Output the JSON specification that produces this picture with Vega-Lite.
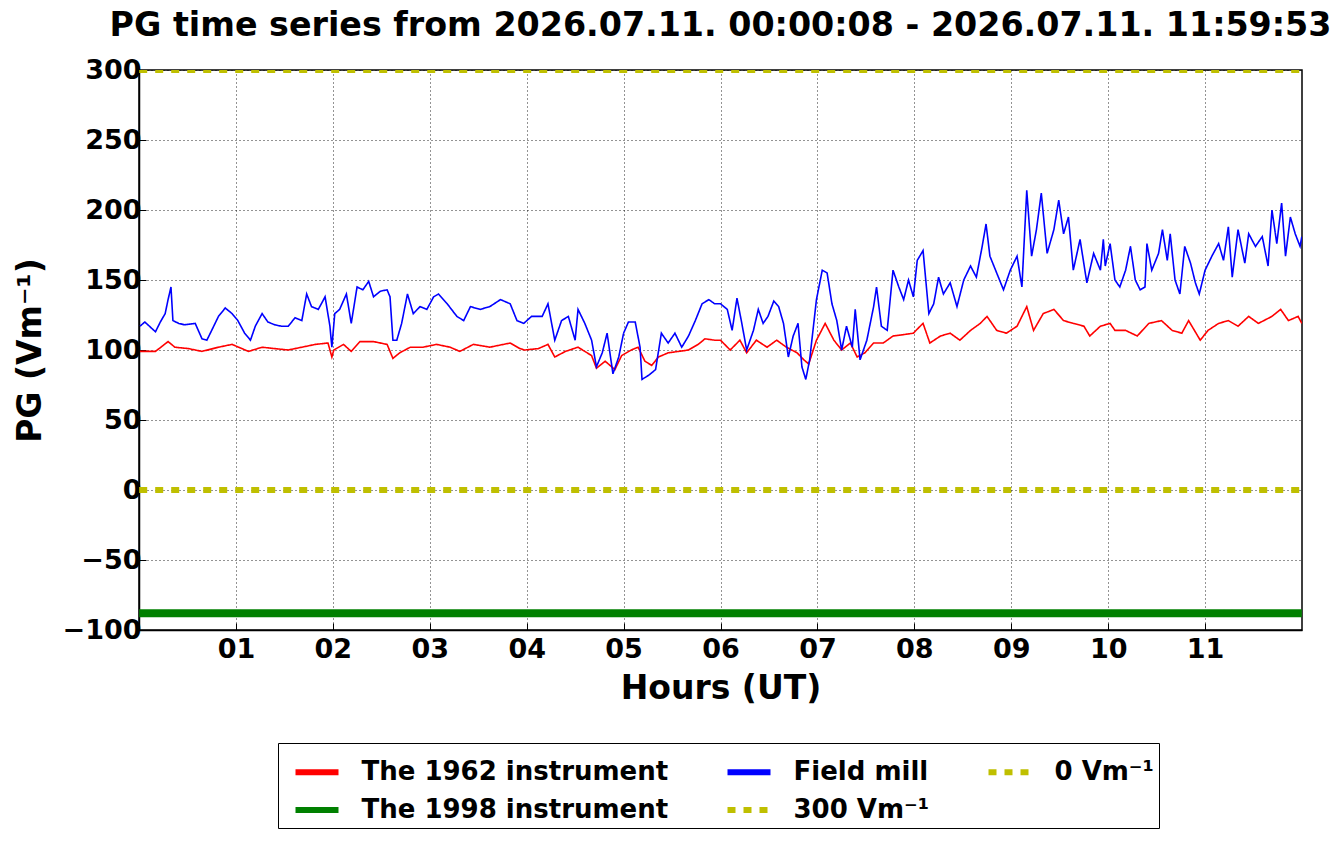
{
  "$schema": "https://vega.github.io/schema/vega-lite/v6.json",
  "description": "PG time series, 12 hours",
  "width": 1163,
  "height": 560,
  "autosize": "none",
  "padding": {"left": 139, "top": 70, "right": 39, "bottom": 214},
  "background": "white",
  "title": {
    "text": "PG time series from 2026.07.11. 00:00:08 - 2026.07.11. 11:59:53",
    "font": "DejaVu Sans",
    "fontSize": 33.3,
    "fontWeight": "bold",
    "color": "black",
    "anchor": "middle",
    "frame": "group",
    "offset": 13
  },
  "datasets": {
    "pg": [
      {"series": "The 1962 instrument", "h": 0.01, "pg": 99},
      {"series": "The 1962 instrument", "h": 0.17, "pg": 99},
      {"series": "The 1962 instrument", "h": 0.30, "pg": 106},
      {"series": "The 1962 instrument", "h": 0.37, "pg": 102},
      {"series": "The 1962 instrument", "h": 0.51, "pg": 101},
      {"series": "The 1962 instrument", "h": 0.65, "pg": 99},
      {"series": "The 1962 instrument", "h": 0.82, "pg": 102},
      {"series": "The 1962 instrument", "h": 0.96, "pg": 104},
      {"series": "The 1962 instrument", "h": 1.13, "pg": 99},
      {"series": "The 1962 instrument", "h": 1.27, "pg": 102},
      {"series": "The 1962 instrument", "h": 1.40, "pg": 101},
      {"series": "The 1962 instrument", "h": 1.54, "pg": 100},
      {"series": "The 1962 instrument", "h": 1.68, "pg": 102},
      {"series": "The 1962 instrument", "h": 1.82, "pg": 104},
      {"series": "The 1962 instrument", "h": 1.95, "pg": 105},
      {"series": "The 1962 instrument", "h": 1.99, "pg": 95},
      {"series": "The 1962 instrument", "h": 2.01, "pg": 100},
      {"series": "The 1962 instrument", "h": 2.11, "pg": 104},
      {"series": "The 1962 instrument", "h": 2.19, "pg": 99},
      {"series": "The 1962 instrument", "h": 2.28, "pg": 106},
      {"series": "The 1962 instrument", "h": 2.42, "pg": 106},
      {"series": "The 1962 instrument", "h": 2.56, "pg": 104},
      {"series": "The 1962 instrument", "h": 2.62, "pg": 94},
      {"series": "The 1962 instrument", "h": 2.69, "pg": 98},
      {"series": "The 1962 instrument", "h": 2.80, "pg": 102},
      {"series": "The 1962 instrument", "h": 2.93, "pg": 102},
      {"series": "The 1962 instrument", "h": 3.07, "pg": 104},
      {"series": "The 1962 instrument", "h": 3.21, "pg": 102},
      {"series": "The 1962 instrument", "h": 3.31, "pg": 99},
      {"series": "The 1962 instrument", "h": 3.45, "pg": 104},
      {"series": "The 1962 instrument", "h": 3.62, "pg": 102},
      {"series": "The 1962 instrument", "h": 3.83, "pg": 105},
      {"series": "The 1962 instrument", "h": 3.93, "pg": 101},
      {"series": "The 1962 instrument", "h": 3.98, "pg": 100},
      {"series": "The 1962 instrument", "h": 4.12, "pg": 101},
      {"series": "The 1962 instrument", "h": 4.22, "pg": 104},
      {"series": "The 1962 instrument", "h": 4.29, "pg": 95},
      {"series": "The 1962 instrument", "h": 4.40, "pg": 99},
      {"series": "The 1962 instrument", "h": 4.53, "pg": 102},
      {"series": "The 1962 instrument", "h": 4.67, "pg": 96},
      {"series": "The 1962 instrument", "h": 4.72, "pg": 87},
      {"series": "The 1962 instrument", "h": 4.81, "pg": 92},
      {"series": "The 1962 instrument", "h": 4.91, "pg": 86},
      {"series": "The 1962 instrument", "h": 4.98, "pg": 96},
      {"series": "The 1962 instrument", "h": 5.08, "pg": 100},
      {"series": "The 1962 instrument", "h": 5.15, "pg": 102},
      {"series": "The 1962 instrument", "h": 5.22, "pg": 92},
      {"series": "The 1962 instrument", "h": 5.29, "pg": 89},
      {"series": "The 1962 instrument", "h": 5.36, "pg": 95},
      {"series": "The 1962 instrument", "h": 5.46, "pg": 98},
      {"series": "The 1962 instrument", "h": 5.57, "pg": 99},
      {"series": "The 1962 instrument", "h": 5.67, "pg": 100},
      {"series": "The 1962 instrument", "h": 5.77, "pg": 104},
      {"series": "The 1962 instrument", "h": 5.84, "pg": 108},
      {"series": "The 1962 instrument", "h": 5.94, "pg": 107},
      {"series": "The 1962 instrument", "h": 6.00, "pg": 107},
      {"series": "The 1962 instrument", "h": 6.10, "pg": 100},
      {"series": "The 1962 instrument", "h": 6.20, "pg": 107},
      {"series": "The 1962 instrument", "h": 6.27, "pg": 98},
      {"series": "The 1962 instrument", "h": 6.37, "pg": 107},
      {"series": "The 1962 instrument", "h": 6.48, "pg": 102},
      {"series": "The 1962 instrument", "h": 6.58, "pg": 107},
      {"series": "The 1962 instrument", "h": 6.68, "pg": 102},
      {"series": "The 1962 instrument", "h": 6.79, "pg": 98},
      {"series": "The 1962 instrument", "h": 6.86, "pg": 93},
      {"series": "The 1962 instrument", "h": 6.91, "pg": 90},
      {"series": "The 1962 instrument", "h": 6.99, "pg": 107},
      {"series": "The 1962 instrument", "h": 7.08, "pg": 119},
      {"series": "The 1962 instrument", "h": 7.17, "pg": 107},
      {"series": "The 1962 instrument", "h": 7.25, "pg": 100},
      {"series": "The 1962 instrument", "h": 7.34, "pg": 105},
      {"series": "The 1962 instrument", "h": 7.41, "pg": 95},
      {"series": "The 1962 instrument", "h": 7.49, "pg": 98},
      {"series": "The 1962 instrument", "h": 7.58, "pg": 105},
      {"series": "The 1962 instrument", "h": 7.68, "pg": 105},
      {"series": "The 1962 instrument", "h": 7.78, "pg": 110},
      {"series": "The 1962 instrument", "h": 7.89, "pg": 111},
      {"series": "The 1962 instrument", "h": 7.99, "pg": 112},
      {"series": "The 1962 instrument", "h": 8.06, "pg": 117},
      {"series": "The 1962 instrument", "h": 8.09, "pg": 119},
      {"series": "The 1962 instrument", "h": 8.16, "pg": 105},
      {"series": "The 1962 instrument", "h": 8.27, "pg": 110},
      {"series": "The 1962 instrument", "h": 8.37, "pg": 112},
      {"series": "The 1962 instrument", "h": 8.47, "pg": 107},
      {"series": "The 1962 instrument", "h": 8.58, "pg": 114},
      {"series": "The 1962 instrument", "h": 8.68, "pg": 119},
      {"series": "The 1962 instrument", "h": 8.75, "pg": 124},
      {"series": "The 1962 instrument", "h": 8.85, "pg": 114},
      {"series": "The 1962 instrument", "h": 8.95, "pg": 112},
      {"series": "The 1962 instrument", "h": 9.06, "pg": 117},
      {"series": "The 1962 instrument", "h": 9.16, "pg": 131},
      {"series": "The 1962 instrument", "h": 9.23, "pg": 114},
      {"series": "The 1962 instrument", "h": 9.33, "pg": 126},
      {"series": "The 1962 instrument", "h": 9.44, "pg": 129},
      {"series": "The 1962 instrument", "h": 9.54, "pg": 121},
      {"series": "The 1962 instrument", "h": 9.64, "pg": 119},
      {"series": "The 1962 instrument", "h": 9.75, "pg": 117},
      {"series": "The 1962 instrument", "h": 9.81, "pg": 110},
      {"series": "The 1962 instrument", "h": 9.92, "pg": 117},
      {"series": "The 1962 instrument", "h": 10.02, "pg": 119},
      {"series": "The 1962 instrument", "h": 10.07, "pg": 114},
      {"series": "The 1962 instrument", "h": 10.18, "pg": 114},
      {"series": "The 1962 instrument", "h": 10.30, "pg": 110},
      {"series": "The 1962 instrument", "h": 10.42, "pg": 119},
      {"series": "The 1962 instrument", "h": 10.55, "pg": 121},
      {"series": "The 1962 instrument", "h": 10.66, "pg": 114},
      {"series": "The 1962 instrument", "h": 10.76, "pg": 112},
      {"series": "The 1962 instrument", "h": 10.83, "pg": 121},
      {"series": "The 1962 instrument", "h": 10.95, "pg": 107},
      {"series": "The 1962 instrument", "h": 11.03, "pg": 114},
      {"series": "The 1962 instrument", "h": 11.14, "pg": 119},
      {"series": "The 1962 instrument", "h": 11.24, "pg": 121},
      {"series": "The 1962 instrument", "h": 11.34, "pg": 117},
      {"series": "The 1962 instrument", "h": 11.45, "pg": 124},
      {"series": "The 1962 instrument", "h": 11.55, "pg": 119},
      {"series": "The 1962 instrument", "h": 11.69, "pg": 124},
      {"series": "The 1962 instrument", "h": 11.78, "pg": 129},
      {"series": "The 1962 instrument", "h": 11.86, "pg": 121},
      {"series": "The 1962 instrument", "h": 11.96, "pg": 124},
      {"series": "The 1962 instrument", "h": 11.998, "pg": 119},

      {"series": "The 1998 instrument", "h": 0.002, "pg": -88},
      {"series": "The 1998 instrument", "h": 11.998, "pg": -88},

      {"series": "Field mill", "h": 0.01, "pg": 117},
      {"series": "Field mill", "h": 0.06, "pg": 120},
      {"series": "Field mill", "h": 0.17, "pg": 113},
      {"series": "Field mill", "h": 0.22, "pg": 120},
      {"series": "Field mill", "h": 0.27, "pg": 126},
      {"series": "Field mill", "h": 0.30, "pg": 136},
      {"series": "Field mill", "h": 0.33, "pg": 145},
      {"series": "Field mill", "h": 0.35, "pg": 121},
      {"series": "Field mill", "h": 0.41, "pg": 119},
      {"series": "Field mill", "h": 0.47, "pg": 118},
      {"series": "Field mill", "h": 0.58, "pg": 119},
      {"series": "Field mill", "h": 0.65, "pg": 108},
      {"series": "Field mill", "h": 0.70, "pg": 107},
      {"series": "Field mill", "h": 0.75, "pg": 114},
      {"series": "Field mill", "h": 0.82, "pg": 124},
      {"series": "Field mill", "h": 0.89, "pg": 130},
      {"series": "Field mill", "h": 0.96, "pg": 126},
      {"series": "Field mill", "h": 1.02, "pg": 121},
      {"series": "Field mill", "h": 1.09, "pg": 112},
      {"series": "Field mill", "h": 1.15, "pg": 107},
      {"series": "Field mill", "h": 1.20, "pg": 117},
      {"series": "Field mill", "h": 1.27, "pg": 126},
      {"series": "Field mill", "h": 1.33, "pg": 120},
      {"series": "Field mill", "h": 1.40, "pg": 118},
      {"series": "Field mill", "h": 1.47, "pg": 117},
      {"series": "Field mill", "h": 1.54, "pg": 117},
      {"series": "Field mill", "h": 1.61, "pg": 123},
      {"series": "Field mill", "h": 1.68, "pg": 121},
      {"series": "Field mill", "h": 1.73, "pg": 140},
      {"series": "Field mill", "h": 1.78, "pg": 131},
      {"series": "Field mill", "h": 1.85, "pg": 129},
      {"series": "Field mill", "h": 1.92, "pg": 138},
      {"series": "Field mill", "h": 1.97, "pg": 117},
      {"series": "Field mill", "h": 1.99, "pg": 102},
      {"series": "Field mill", "h": 2.02, "pg": 126},
      {"series": "Field mill", "h": 2.07, "pg": 129},
      {"series": "Field mill", "h": 2.14, "pg": 140},
      {"series": "Field mill", "h": 2.19, "pg": 119},
      {"series": "Field mill", "h": 2.25, "pg": 145},
      {"series": "Field mill", "h": 2.31, "pg": 143},
      {"series": "Field mill", "h": 2.37, "pg": 149},
      {"series": "Field mill", "h": 2.42, "pg": 138},
      {"series": "Field mill", "h": 2.49, "pg": 142},
      {"series": "Field mill", "h": 2.56, "pg": 143},
      {"series": "Field mill", "h": 2.59, "pg": 138},
      {"series": "Field mill", "h": 2.62, "pg": 107},
      {"series": "Field mill", "h": 2.66, "pg": 107},
      {"series": "Field mill", "h": 2.71, "pg": 119},
      {"series": "Field mill", "h": 2.77, "pg": 140},
      {"series": "Field mill", "h": 2.83, "pg": 126},
      {"series": "Field mill", "h": 2.90, "pg": 131},
      {"series": "Field mill", "h": 2.97, "pg": 129},
      {"series": "Field mill", "h": 3.04, "pg": 138},
      {"series": "Field mill", "h": 3.09, "pg": 140},
      {"series": "Field mill", "h": 3.18, "pg": 133},
      {"series": "Field mill", "h": 3.28, "pg": 124},
      {"series": "Field mill", "h": 3.35, "pg": 121},
      {"series": "Field mill", "h": 3.42, "pg": 131},
      {"series": "Field mill", "h": 3.52, "pg": 129},
      {"series": "Field mill", "h": 3.62, "pg": 131},
      {"series": "Field mill", "h": 3.73, "pg": 136},
      {"series": "Field mill", "h": 3.83, "pg": 133},
      {"series": "Field mill", "h": 3.90, "pg": 121},
      {"series": "Field mill", "h": 3.97, "pg": 119},
      {"series": "Field mill", "h": 4.05, "pg": 124},
      {"series": "Field mill", "h": 4.16, "pg": 124},
      {"series": "Field mill", "h": 4.22, "pg": 133},
      {"series": "Field mill", "h": 4.29, "pg": 107},
      {"series": "Field mill", "h": 4.36, "pg": 121},
      {"series": "Field mill", "h": 4.43, "pg": 124},
      {"series": "Field mill", "h": 4.50, "pg": 107},
      {"series": "Field mill", "h": 4.53, "pg": 129},
      {"series": "Field mill", "h": 4.60, "pg": 119},
      {"series": "Field mill", "h": 4.67, "pg": 107},
      {"series": "Field mill", "h": 4.72, "pg": 88},
      {"series": "Field mill", "h": 4.78, "pg": 98},
      {"series": "Field mill", "h": 4.83, "pg": 112},
      {"series": "Field mill", "h": 4.89, "pg": 83},
      {"series": "Field mill", "h": 4.95, "pg": 95},
      {"series": "Field mill", "h": 5.00, "pg": 112},
      {"series": "Field mill", "h": 5.05, "pg": 120},
      {"series": "Field mill", "h": 5.12, "pg": 120},
      {"series": "Field mill", "h": 5.17, "pg": 102},
      {"series": "Field mill", "h": 5.19, "pg": 79},
      {"series": "Field mill", "h": 5.26, "pg": 82},
      {"series": "Field mill", "h": 5.33, "pg": 86},
      {"series": "Field mill", "h": 5.39, "pg": 112},
      {"series": "Field mill", "h": 5.46, "pg": 105},
      {"series": "Field mill", "h": 5.53, "pg": 112},
      {"series": "Field mill", "h": 5.60, "pg": 102},
      {"series": "Field mill", "h": 5.67, "pg": 110},
      {"series": "Field mill", "h": 5.74, "pg": 121},
      {"series": "Field mill", "h": 5.81, "pg": 133},
      {"series": "Field mill", "h": 5.88, "pg": 136},
      {"series": "Field mill", "h": 5.94, "pg": 133},
      {"series": "Field mill", "h": 6.00, "pg": 133},
      {"series": "Field mill", "h": 6.07, "pg": 129},
      {"series": "Field mill", "h": 6.12, "pg": 114},
      {"series": "Field mill", "h": 6.17, "pg": 137},
      {"series": "Field mill", "h": 6.22, "pg": 119},
      {"series": "Field mill", "h": 6.27, "pg": 100},
      {"series": "Field mill", "h": 6.34, "pg": 114},
      {"series": "Field mill", "h": 6.39, "pg": 129},
      {"series": "Field mill", "h": 6.44, "pg": 119},
      {"series": "Field mill", "h": 6.49, "pg": 124},
      {"series": "Field mill", "h": 6.55, "pg": 135},
      {"series": "Field mill", "h": 6.60, "pg": 131},
      {"series": "Field mill", "h": 6.65, "pg": 119},
      {"series": "Field mill", "h": 6.70, "pg": 95},
      {"series": "Field mill", "h": 6.75, "pg": 110},
      {"series": "Field mill", "h": 6.80, "pg": 119},
      {"series": "Field mill", "h": 6.84, "pg": 88},
      {"series": "Field mill", "h": 6.88, "pg": 79},
      {"series": "Field mill", "h": 6.92, "pg": 93},
      {"series": "Field mill", "h": 6.99, "pg": 136},
      {"series": "Field mill", "h": 7.05, "pg": 157},
      {"series": "Field mill", "h": 7.10, "pg": 155},
      {"series": "Field mill", "h": 7.15, "pg": 133},
      {"series": "Field mill", "h": 7.20, "pg": 121},
      {"series": "Field mill", "h": 7.25, "pg": 100},
      {"series": "Field mill", "h": 7.30, "pg": 117},
      {"series": "Field mill", "h": 7.36, "pg": 102},
      {"series": "Field mill", "h": 7.39, "pg": 129},
      {"series": "Field mill", "h": 7.44, "pg": 93},
      {"series": "Field mill", "h": 7.51, "pg": 107},
      {"series": "Field mill", "h": 7.58, "pg": 131},
      {"series": "Field mill", "h": 7.61, "pg": 145},
      {"series": "Field mill", "h": 7.66, "pg": 117},
      {"series": "Field mill", "h": 7.72, "pg": 114},
      {"series": "Field mill", "h": 7.78, "pg": 157},
      {"series": "Field mill", "h": 7.84, "pg": 145},
      {"series": "Field mill", "h": 7.89, "pg": 136},
      {"series": "Field mill", "h": 7.94, "pg": 150},
      {"series": "Field mill", "h": 7.99, "pg": 138},
      {"series": "Field mill", "h": 8.03, "pg": 164},
      {"series": "Field mill", "h": 8.09, "pg": 171},
      {"series": "Field mill", "h": 8.15, "pg": 126},
      {"series": "Field mill", "h": 8.20, "pg": 133},
      {"series": "Field mill", "h": 8.25, "pg": 152},
      {"series": "Field mill", "h": 8.30, "pg": 140},
      {"series": "Field mill", "h": 8.37, "pg": 148},
      {"series": "Field mill", "h": 8.44, "pg": 131},
      {"series": "Field mill", "h": 8.51, "pg": 150},
      {"series": "Field mill", "h": 8.58, "pg": 160},
      {"series": "Field mill", "h": 8.64, "pg": 152},
      {"series": "Field mill", "h": 8.70, "pg": 174},
      {"series": "Field mill", "h": 8.74, "pg": 190},
      {"series": "Field mill", "h": 8.78, "pg": 167},
      {"series": "Field mill", "h": 8.85, "pg": 155},
      {"series": "Field mill", "h": 8.92, "pg": 143},
      {"series": "Field mill", "h": 8.99, "pg": 157},
      {"series": "Field mill", "h": 9.06, "pg": 167},
      {"series": "Field mill", "h": 9.11, "pg": 145},
      {"series": "Field mill", "h": 9.16, "pg": 214},
      {"series": "Field mill", "h": 9.21, "pg": 167},
      {"series": "Field mill", "h": 9.26, "pg": 186},
      {"series": "Field mill", "h": 9.31, "pg": 212},
      {"series": "Field mill", "h": 9.37, "pg": 169},
      {"series": "Field mill", "h": 9.44, "pg": 186},
      {"series": "Field mill", "h": 9.49, "pg": 207},
      {"series": "Field mill", "h": 9.54, "pg": 183},
      {"series": "Field mill", "h": 9.59, "pg": 195},
      {"series": "Field mill", "h": 9.64, "pg": 157},
      {"series": "Field mill", "h": 9.71, "pg": 179},
      {"series": "Field mill", "h": 9.78, "pg": 148},
      {"series": "Field mill", "h": 9.85, "pg": 169},
      {"series": "Field mill", "h": 9.92, "pg": 157},
      {"series": "Field mill", "h": 9.95, "pg": 179},
      {"series": "Field mill", "h": 9.97, "pg": 160},
      {"series": "Field mill", "h": 10.02, "pg": 176},
      {"series": "Field mill", "h": 10.07, "pg": 150},
      {"series": "Field mill", "h": 10.12, "pg": 145},
      {"series": "Field mill", "h": 10.18, "pg": 157},
      {"series": "Field mill", "h": 10.23, "pg": 174},
      {"series": "Field mill", "h": 10.28, "pg": 150},
      {"series": "Field mill", "h": 10.33, "pg": 143},
      {"series": "Field mill", "h": 10.38, "pg": 145},
      {"series": "Field mill", "h": 10.40, "pg": 176},
      {"series": "Field mill", "h": 10.45, "pg": 157},
      {"series": "Field mill", "h": 10.52, "pg": 169},
      {"series": "Field mill", "h": 10.56, "pg": 186},
      {"series": "Field mill", "h": 10.61, "pg": 164},
      {"series": "Field mill", "h": 10.64, "pg": 183},
      {"series": "Field mill", "h": 10.69, "pg": 150},
      {"series": "Field mill", "h": 10.74, "pg": 140},
      {"series": "Field mill", "h": 10.79, "pg": 174},
      {"series": "Field mill", "h": 10.85, "pg": 162},
      {"series": "Field mill", "h": 10.90, "pg": 148},
      {"series": "Field mill", "h": 10.94, "pg": 140},
      {"series": "Field mill", "h": 11.00, "pg": 157},
      {"series": "Field mill", "h": 11.07, "pg": 167},
      {"series": "Field mill", "h": 11.14, "pg": 176},
      {"series": "Field mill", "h": 11.19, "pg": 164},
      {"series": "Field mill", "h": 11.24, "pg": 188},
      {"series": "Field mill", "h": 11.28, "pg": 152},
      {"series": "Field mill", "h": 11.34, "pg": 186},
      {"series": "Field mill", "h": 11.41, "pg": 162},
      {"series": "Field mill", "h": 11.45, "pg": 183},
      {"series": "Field mill", "h": 11.52, "pg": 174},
      {"series": "Field mill", "h": 11.59, "pg": 181},
      {"series": "Field mill", "h": 11.65, "pg": 160},
      {"series": "Field mill", "h": 11.69, "pg": 200},
      {"series": "Field mill", "h": 11.74, "pg": 176},
      {"series": "Field mill", "h": 11.79, "pg": 205},
      {"series": "Field mill", "h": 11.83, "pg": 167},
      {"series": "Field mill", "h": 11.88, "pg": 195},
      {"series": "Field mill", "h": 11.93, "pg": 183},
      {"series": "Field mill", "h": 11.98, "pg": 174},
      {"series": "Field mill", "h": 11.998, "pg": 181},

      {"series": "300 Vm⁻¹", "h": 0.002, "pg": 300},
      {"series": "300 Vm⁻¹", "h": 11.998, "pg": 300},

      {"series": "0 Vm⁻¹", "h": 0.002, "pg": 0},
      {"series": "0 Vm⁻¹", "h": 11.998, "pg": 0}
    ]
  },
  "data": {"name": "pg"},
  "encoding": {
    "x": {
      "field": "h",
      "type": "quantitative",
      "scale": {"domain": [0, 12], "nice": false, "zero": false},
      "axis": {
        "title": "Hours (UT)",
        "values": [1, 2, 3, 4, 5, 6, 7, 8, 9, 10, 11],
        "labelExpr": "datum.value < 10 ? '0' + datum.value : '' + datum.value",
        "labelPadding": 13,
        "titlePadding": 10
      }
    },
    "y": {
      "field": "pg",
      "type": "quantitative",
      "scale": {"domain": [-100, 300], "nice": false},
      "axis": {
        "title": "PG (Vm⁻¹)",
        "values": [-100, -50, 0, 50, 100, 150, 200, 250, 300],
        "labelPadding": 5,
        "titleX": -109,
        "titleY": 280,
        "titleAlign": "center",
        "titleBaseline": "middle",
        "titleAngle": -90
      }
    },
    "color": {
      "field": "series",
      "type": "nominal",
      "scale": {
        "domain": ["The 1962 instrument", "Field mill", "0 Vm⁻¹", "The 1998 instrument", "300 Vm⁻¹"],
        "range": ["#ff0000", "#0000ff", "#bfbf00", "#008000", "#bfbf00"]
      },
      "legend": {
        "title": null,
        "orient": "none",
        "legendX": 139,
        "legendY": 673,
        "direction": "horizontal",
        "columns": 3,
        "columnPadding": 46,
        "rowPadding": -4,
        "padding": 4.5,
        "symbolOffset": 10,
        "symbolType": "stroke",
        "symbolSize": 1849,
        "symbolStrokeWidth": 6,
        "labelOffset": 20,
        "labelFont": "DejaVu Sans",
        "labelFontSize": 26,
        "labelFontWeight": "bold",
        "labelColor": "black",
        "labelLimit": 0,
        "strokeColor": "black",
        "fillColor": "white",
        "cornerRadius": 0
      }
    },
    "strokeDash": {
      "field": "series",
      "type": "nominal",
      "scale": {
        "domain": ["The 1962 instrument", "Field mill", "0 Vm⁻¹", "The 1998 instrument", "300 Vm⁻¹"],
        "range": [[1, 0], [1, 0], [8, 8], [1, 0], [8, 8]]
      }
    }
  },
  "layer": [
    {
      "transform": [{"filter": "datum.series == 'The 1962 instrument'"}],
      "mark": {"type": "line", "strokeWidth": 1.6, "clip": true}
    },
    {
      "transform": [{"filter": "datum.series == 'The 1998 instrument'"}],
      "mark": {"type": "line", "strokeWidth": 8, "clip": true}
    },
    {
      "transform": [{"filter": "datum.series == 'Field mill'"}],
      "mark": {"type": "line", "strokeWidth": 1.6, "clip": true}
    },
    {
      "transform": [{"filter": "datum.series == '300 Vm⁻¹' || datum.series == '0 Vm⁻¹'"}],
      "mark": {"type": "line", "strokeWidth": 6, "clip": true}
    }
  ],
  "config": {
    "font": "DejaVu Sans",
    "view": {"stroke": "black", "strokeWidth": 1.5},
    "axis": {
      "labelFont": "DejaVu Sans",
      "labelFontSize": 27,
      "labelFontWeight": "bold",
      "labelColor": "black",
      "titleFont": "DejaVu Sans",
      "titleFontSize": 33,
      "titleFontWeight": "bold",
      "titleColor": "black",
      "domainColor": "black",
      "domainWidth": 1.5,
      "tickColor": "black",
      "tickSize": -7,
      "tickWidth": 1,
      "grid": true,
      "gridColor": "black",
      "gridDash": [1, 3],
      "gridWidth": 1,
      "gridOpacity": 0.85,
      "labelOverlap": false
    }
  }
}
